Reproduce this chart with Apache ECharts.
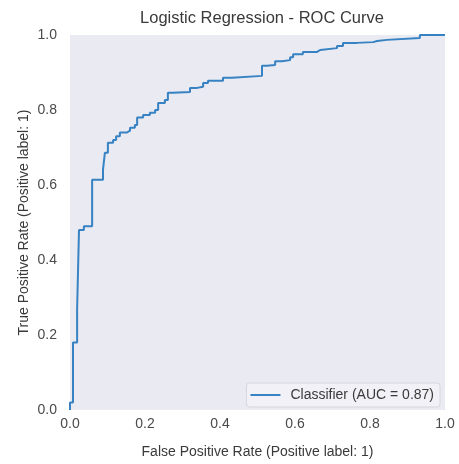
<!DOCTYPE html>
<html>
<head>
<meta charset="utf-8">
<script src="https://cdn.jsdelivr.net/npm/echarts@6/dist/echarts.min.js"></script>
<style>
  html, body { margin: 0; padding: 0; background: #ffffff; }
  #chart { width: 459px; height: 464px; }
</style>
</head>
<body>
<div id="chart"></div>
<script>
// ROC curve points: the curve rises to tpr[i] at fpr[i]
const fpr = [0, 0, 0.008, 0.019, 0.024, 0.037, 0.059, 0.088, 0.093, 0.101,
  0.115, 0.123, 0.133, 0.152, 0.16, 0.173, 0.179, 0.195, 0.213, 0.227,
  0.235, 0.253, 0.261, 0.275, 0.32, 0.339, 0.355, 0.368, 0.408, 0.432,
  0.512, 0.525, 0.547, 0.565, 0.587, 0.595, 0.621, 0.659, 0.667, 0.712,
  0.728, 0.765, 0.808, 0.819, 0.845, 0.933, 1.0];
const tpr = [0, 0.02, 0.18, 0.27, 0.48, 0.49, 0.614, 0.641, 0.686, 0.713,
  0.72, 0.73, 0.74, 0.745, 0.753, 0.76, 0.78, 0.787, 0.793, 0.80,
  0.819, 0.827, 0.846, 0.848, 0.859, 0.862, 0.872, 0.878, 0.886, 0.891,
  0.918, 0.92, 0.93, 0.933, 0.941, 0.949, 0.955, 0.96, 0.965, 0.971,
  0.979, 0.981, 0.984, 0.987, 0.992, 1.0, 1.0];
const auc = 0.87;
const seriesName = 'Classifier (AUC = ' + auc.toFixed(2) + ')';
const titleText = 'Logistic Regression - ROC Curve';
const xLabel = 'False Positive Rate (Positive label: 1)';
const yLabel = 'True Positive Rate (Positive label: 1)';

// staircase: move right at the previous rate, then rise
const points = [[fpr[0], tpr[0]]];
for (let i = 1; i < fpr.length; i++) {
  points.push([fpr[i], tpr[i - 1]]);
  points.push([fpr[i], tpr[i]]);
}

const font = '"Liberation Sans", Arial, sans-serif';
const textColor = '#3a3a3a';
const tickColor = '#4a4a4a';
const lineColor = '#3682c2';

const chart = echarts.init(document.getElementById('chart'), null, { renderer: 'canvas' });
chart.setOption({
  animation: false,
  backgroundColor: '#ffffff',
  textStyle: { fontFamily: font },
  title: {
    text: titleText,
    left: 257, top: 5, textAlign: 'center',
    textStyle: { fontFamily: font, fontSize: 16.5, fontWeight: 'normal', color: textColor }
  },
  grid: {
    left: 70, top: 35, width: 375, height: 376,
    show: true, backgroundColor: '#eaeaf2', borderWidth: 0
  },
  legend: {
    show: true,
    right: 19, bottom: 57,
    icon: 'rect',
    backgroundColor: 'rgba(242,242,247,0.9)',
    borderColor: '#d6d6de', borderWidth: 1, borderRadius: 3,
    padding: [5, 6, 5, 4],
    itemWidth: 30, itemHeight: 2,
    itemStyle: { color: lineColor },
    textStyle: { fontFamily: font, fontSize: 14, color: textColor, padding: [0, 0, 0, 5] }
  },
  xAxis: {
    type: 'value', min: 0, max: 1, interval: 0.2,
    name: xLabel, nameLocation: 'middle', nameGap: 35, nameMoveOverlap: false,
    nameTextStyle: { fontFamily: font, fontSize: 14, color: textColor },
    axisLine: { show: false }, axisTick: { show: false }, splitLine: { show: false },
    axisLabel: { fontFamily: font, fontSize: 14, color: tickColor, margin: 7,
      formatter: v => v.toFixed(1) }
  },
  yAxis: {
    type: 'value', min: 0, max: 1, interval: 0.2,
    name: yLabel, nameLocation: 'middle', nameGap: 39, nameRotate: 90, nameMoveOverlap: false,
    nameTextStyle: { fontFamily: font, fontSize: 14, color: textColor },
    axisLine: { show: false }, axisTick: { show: false }, splitLine: { show: false },
    axisLabel: { fontFamily: font, fontSize: 14, color: tickColor, margin: 13,
      formatter: v => v.toFixed(1) }
  },
  series: [{
    name: seriesName,
    type: 'line',
    data: points,
    symbol: 'none',
    showSymbol: false,
    lineStyle: { color: lineColor, width: 2 },
    itemStyle: { color: lineColor }
  }]
});
</script>
</body>
</html>
